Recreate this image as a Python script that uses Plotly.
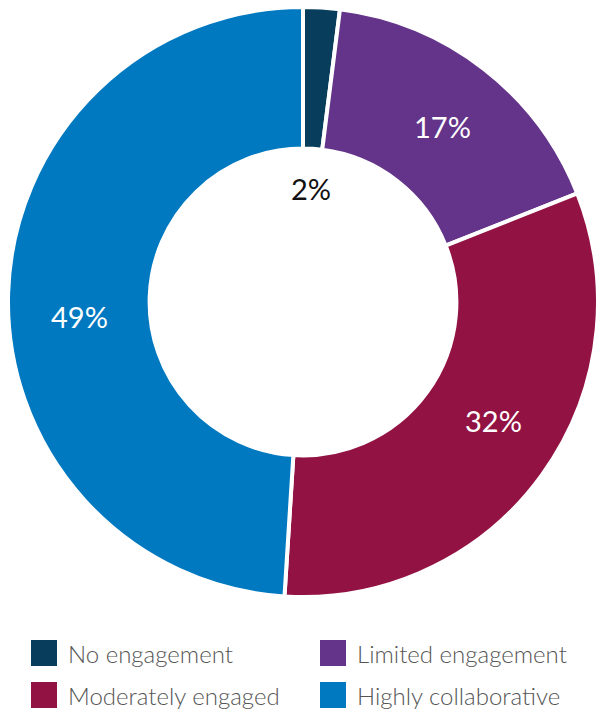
import math
import plotly.graph_objects as go

# Survey breakdown of engagement levels
categories = ["No engagement", "Limited engagement", "Moderately engaged", "Highly collaborative"]
values = [2, 17, 32, 49]
colors = ["#083D5B", "#633489", "#921343", "#0079C1"]
label_colors = ["#111111", "#FFFFFF", "#FFFFFF", "#FFFFFF"]
# small angular nudges (degrees) for the percentage labels
label_nudge = [0.4, 0.8, -4.2, -5.4]

W, H = 600, 713
FONT = "Lato"

# pie placement in pixels
cx, cy, R = 303, 302, 295
hole = 0.52

fig = go.Figure(go.Pie(
    labels=categories,
    values=values,
    marker=dict(colors=colors, line=dict(color="white", width=4)),
    hole=hole,
    sort=False,
    direction="clockwise",
    rotation=0,
    textinfo="none",
    hoverinfo="label+percent",
    showlegend=False,
    domain=dict(x=[(cx - R) / W, (cx + R) / W], y=[1 - (cy + R) / H, 1 - (cy - R) / H]),
))

annotations = []
shapes = []

# percentage labels around each slice's mid angle
total = sum(values)
cum = 0
for v, col, nudge in zip(values, label_colors, label_nudge):
    mid = (cum + v / 2) / total * 2 * math.pi + math.radians(nudge)
    cum += v
    r = R * (1 + hole) / 2 if v >= 5 else R * hole * 0.74
    x = cx + r * math.sin(mid)
    y = cy - r * math.cos(mid)
    annotations.append(dict(
        x=x / W, y=1 - y / H, xref="paper", yref="paper",
        text=f"{round(v / total * 100)}%", showarrow=False,
        font=dict(family=FONT, size=29, color=col, weight=400),
        xanchor="center", yanchor="middle",
    ))

# two-column legend
col_x = [31, 320]
row_y = [640, 682]
sw = 26
for i, (name, c) in enumerate(zip(categories, colors)):
    x0 = col_x[i % 2]
    y0 = row_y[i // 2]
    shapes.append(dict(
        type="rect", xref="paper", yref="paper",
        x0=x0 / W, x1=(x0 + sw) / W, y0=1 - y0 / H, y1=1 - (y0 + sw) / H,
        fillcolor=c, line=dict(width=0),
    ))
    annotations.append(dict(
        x=(x0 + sw + 9) / W, y=1 - (y0 + sw / 2) / H, xref="paper", yref="paper",
        text=name, showarrow=False,
        font=dict(family=FONT, size=24, color="#555555", weight=300),
        xanchor="left", yanchor="middle",
    ))

fig.update_layout(
    width=W, height=H,
    margin=dict(l=0, r=0, t=0, b=0),
    paper_bgcolor="white",
    plot_bgcolor="white",
    annotations=annotations,
    shapes=shapes,
    font=dict(family=FONT),
)

fig.write_html("out.html")
